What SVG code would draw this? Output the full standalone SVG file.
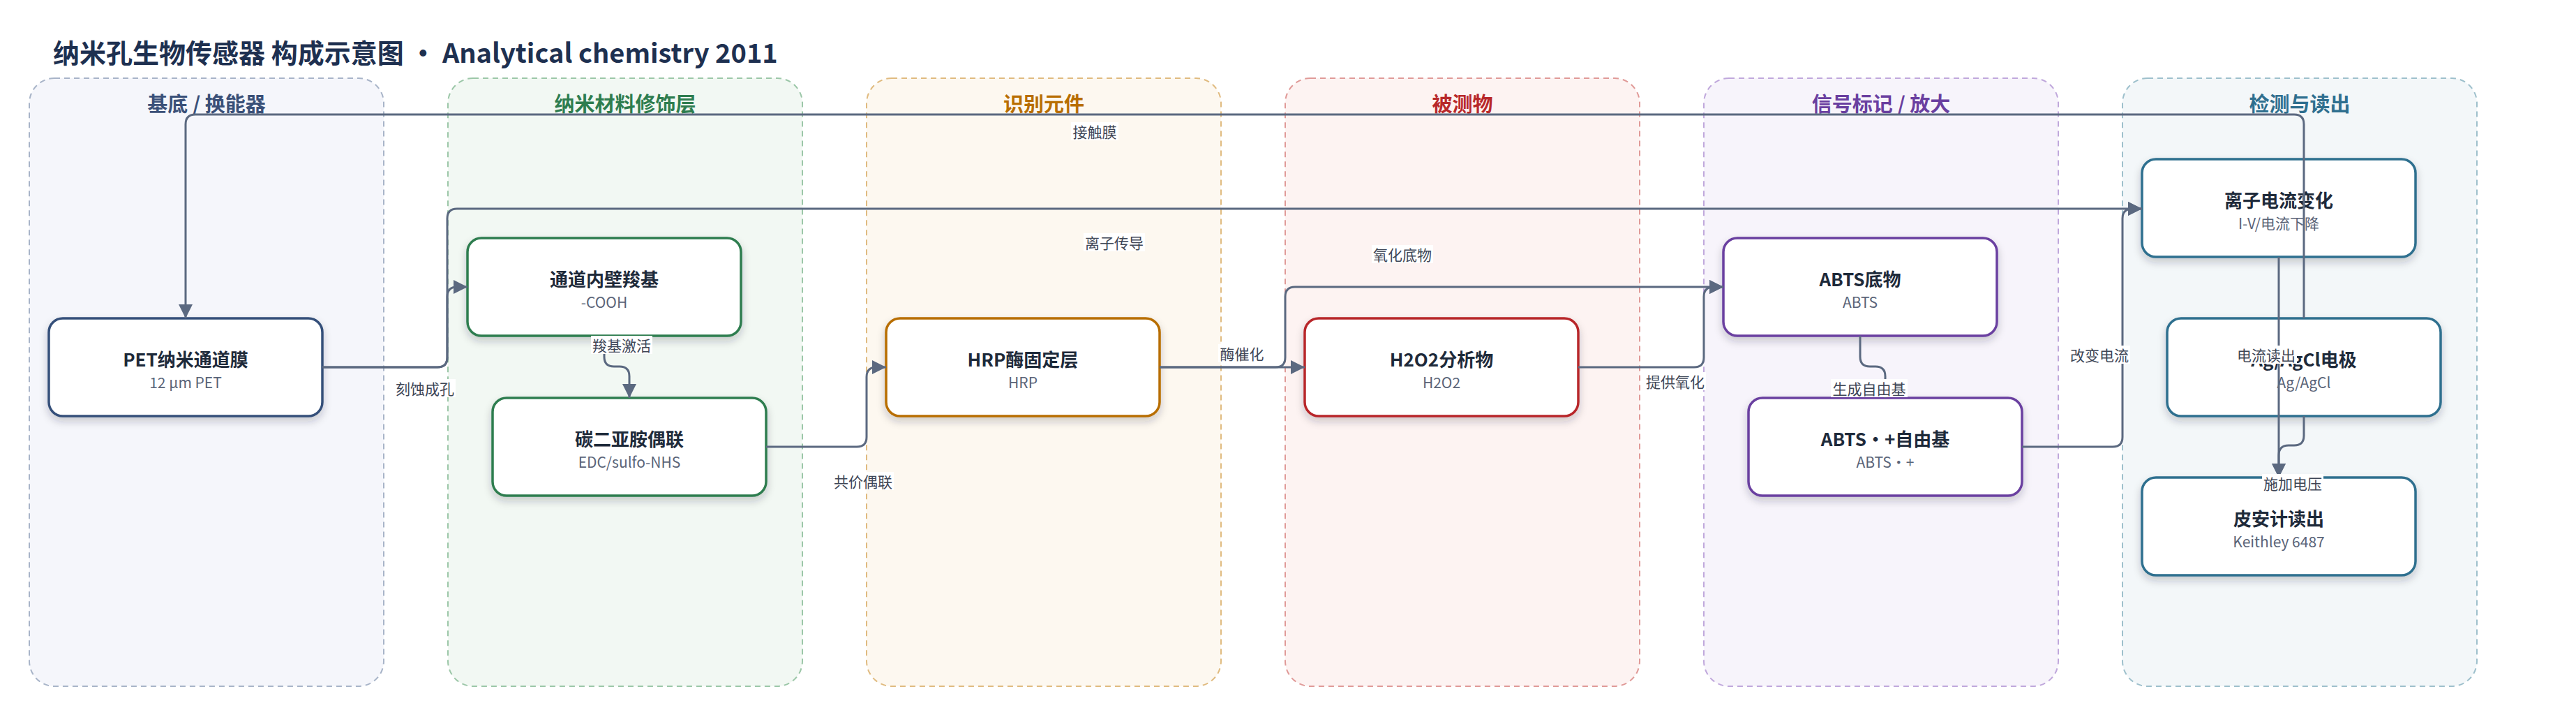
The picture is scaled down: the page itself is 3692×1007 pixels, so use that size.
<svg xmlns="http://www.w3.org/2000/svg" width="3692" height="1007" viewBox="0 0 3692 1007">
<style>
text{font-family:"Noto Sans CJK SC","Noto Sans",sans-serif}
.lane{stroke-width:2;stroke-dasharray:8 6}
.lt{font-size:29px;font-weight:700;text-anchor:middle;dominant-baseline:central}
.node{fill:#fff;stroke-width:3.5;filter:url(#sh)}
.nt{font-size:26px;font-weight:700;fill:#1e2a3a;text-anchor:middle;dominant-baseline:central}
.ns{font-size:21px;fill:#5a6478;text-anchor:middle;dominant-baseline:central}
.e{fill:none;stroke:#5b6980;stroke-width:3}
.ea{marker-end:url(#ah)}
.lb{fill:#fff}
.ll{font-size:21px;fill:#3e4656;text-anchor:middle;dominant-baseline:central}
</style>
<defs>
<filter id="sh" x="-10%" y="-15%" width="120%" height="140%">
<feDropShadow dx="0" dy="6" stdDeviation="6" flood-color="#1e2a3a" flood-opacity="0.22"/>
</filter>
<marker id="ah" markerUnits="userSpaceOnUse" markerWidth="20" markerHeight="20" refX="20" refY="10" orient="auto">
<path d="M0,0 L20,10 L0,20 z" fill="#5b6980"/>
</marker>
</defs>
<rect width="3692" height="1007" fill="#fff"/>
<text x="76" y="90" font-size="38" font-weight="700" fill="#1e3050">纳米孔生物传感器 构成示意图 · Analytical chemistry 2011</text>

<g id="lanes">
<g id="lane1"><rect class="lane" x="42" y="112" width="508" height="871" rx="36" fill="#f5f6fb" stroke="#a8b4c8"/><text class="lt" x="296" y="147" fill="#3a5078">基底 / 换能器</text></g>
<g id="lane2"><rect class="lane" x="642" y="112" width="508" height="871" rx="36" fill="#f2f8f3" stroke="#9cc7a8"/><text class="lt" x="896" y="147" fill="#2e7d4f">纳米材料修饰层</text></g>
<g id="lane3"><rect class="lane" x="1242" y="112" width="508" height="871" rx="36" fill="#fdf8f0" stroke="#e0bb80"/><text class="lt" x="1496" y="147" fill="#b86e00">识别元件</text></g>
<g id="lane4"><rect class="lane" x="1842" y="112" width="508" height="871" rx="36" fill="#fdf3f2" stroke="#e09a98"/><text class="lt" x="2096" y="147" fill="#b8282a">被测物</text></g>
<g id="lane5"><rect class="lane" x="2442" y="112" width="508" height="871" rx="36" fill="#f7f4fb" stroke="#c0a8dc"/><text class="lt" x="2696" y="147" fill="#6a3fa0">信号标记 / 放大</text></g>
<g id="lane6"><rect class="lane" x="3042" y="112" width="508" height="871" rx="36" fill="#f3f7f9" stroke="#9ec0cc"/><text class="lt" x="3296" y="147" fill="#2f6f8f">检测与读出</text></g>
</g>

<g id="n1"><rect class="node" x="70" y="456" width="392" height="140" rx="20" stroke="#34507a"/><text class="nt" x="266" y="513">PET纳米通道膜</text><text class="ns" x="266" y="547">12 µm PET</text></g>
<g id="n2"><rect class="node" x="670" y="341" width="392" height="140" rx="20" stroke="#2e7d4f"/><text class="nt" x="866" y="398">通道内壁羧基</text><text class="ns" x="866" y="432">-COOH</text></g>
<g id="n3"><rect class="node" x="706" y="570" width="392" height="140" rx="20" stroke="#2e7d4f"/><text class="nt" x="902" y="627">碳二亚胺偶联</text><text class="ns" x="902" y="661">EDC/sulfo-NHS</text></g>
<g id="n4"><rect class="node" x="1270" y="456" width="392" height="140" rx="20" stroke="#b86e00"/><text class="nt" x="1466" y="513">HRP酶固定层</text><text class="ns" x="1466" y="547">HRP</text></g>
<g id="n5"><rect class="node" x="1870" y="456" width="392" height="140" rx="20" stroke="#b8282a"/><text class="nt" x="2066" y="513">H2O2分析物</text><text class="ns" x="2066" y="547">H2O2</text></g>
<g id="n6"><rect class="node" x="2470" y="341" width="392" height="140" rx="20" stroke="#6a3fa0"/><text class="nt" x="2666" y="398">ABTS底物</text><text class="ns" x="2666" y="432">ABTS</text></g>
<g id="n7"><rect class="node" x="2506" y="570" width="392" height="140" rx="20" stroke="#6a3fa0"/><text class="nt" x="2702" y="627">ABTS·+自由基</text><text class="ns" x="2702" y="661">ABTS·+</text></g>
<g id="n8"><rect class="node" x="3070" y="228" width="392" height="140" rx="20" stroke="#2f6f8f"/><text class="nt" x="3266" y="285">离子电流变化</text><text class="ns" x="3266" y="319">I-V/电流下降</text></g>
<g id="n9"><rect class="node" x="3106" y="456" width="392" height="140" rx="20" stroke="#2f6f8f"/><text class="nt" x="3302" y="513">Ag/AgCl电极</text><text class="ns" x="3302" y="547">Ag/AgCl</text></g>
<g id="n10"><rect class="node" x="3070" y="684" width="392" height="140" rx="20" stroke="#2f6f8f"/><text class="nt" x="3266" y="741">皮安计读出</text><text class="ns" x="3266" y="775">Keithley 6487</text></g>

<g id="connectors">
<path class="e ea" d="M3302,456 V178 Q3302,164 3288,164 H280 Q266,164 266,178 V456"/>
<path class="e ea" d="M462,526 H627 Q641,526 641,512 V425 Q641,411 655,411 H670"/>
<path class="e ea" d="M462,526 H627 Q641,526 641,512 V313 Q641,299 655,299 H3070"/>
<path class="e ea" d="M866,481 V511 Q866,525 880,525 H888 Q902,525 902,539 V570"/>
<path class="e ea" d="M1098,640 H1228 Q1242,640 1242,626 V540 Q1242,526 1256,526 H1270"/>
<path class="e ea" d="M1662,526 H1870"/>
<path class="e ea" d="M1662,526 H1828 Q1842,526 1842,512 V425 Q1842,411 1856,411 H2470"/>
<path class="e ea" d="M2262,526 H2428 Q2442,526 2442,512 V425 Q2442,411 2456,411 H2470"/>
<path class="e ea" d="M2666,481 V511 Q2666,525 2680,525 H2688 Q2702,525 2702,539 V570"/>
<path class="e ea" d="M2898,640 H3028 Q3042,640 3042,626 V313 Q3042,299 3056,299 H3070"/>
<path class="e ea" d="M3266,368 V684"/>
<path class="e ea" d="M3302,596 V624 Q3302,638 3288,638 H3280 Q3266,638 3266,652 V684"/>
<g id="labels">
<rect class="lb" x="1535" y="175" width="68" height="26"/><text class="ll" x="1569" y="188">接触膜</text>
<rect class="lb" x="565" y="543" width="88" height="26"/><text class="ll" x="609" y="556">刻蚀成孔</text>
<rect class="lb" x="1553" y="334" width="88" height="26"/><text class="ll" x="1597" y="347">离子传导</text>
<rect class="lb" x="847" y="481" width="88" height="26"/><text class="ll" x="891" y="494">羧基激活</text>
<rect class="lb" x="1193" y="676" width="88" height="26"/><text class="ll" x="1237" y="689">共价偶联</text>
<rect class="lb" x="1746" y="493" width="68" height="26"/><text class="ll" x="1780" y="506">酶催化</text>
<rect class="lb" x="1966" y="351" width="88" height="26"/><text class="ll" x="2010" y="364">氧化底物</text>
<rect class="lb" x="2357" y="533" width="88" height="26"/><text class="ll" x="2401" y="546">提供氧化</text>
<rect class="lb" x="2624" y="543" width="110" height="26"/><text class="ll" x="2679" y="556">生成自由基</text>
<rect class="lb" x="2965" y="495" width="88" height="26"/><text class="ll" x="3009" y="508">改变电流</text>
<rect class="lb" x="3204" y="495" width="88" height="26"/><text class="ll" x="3248" y="508">电流读出</text>
<rect class="lb" x="3242" y="679" width="88" height="26"/><text class="ll" x="3286" y="692">施加电压</text>
</g>
</g>
</svg>
